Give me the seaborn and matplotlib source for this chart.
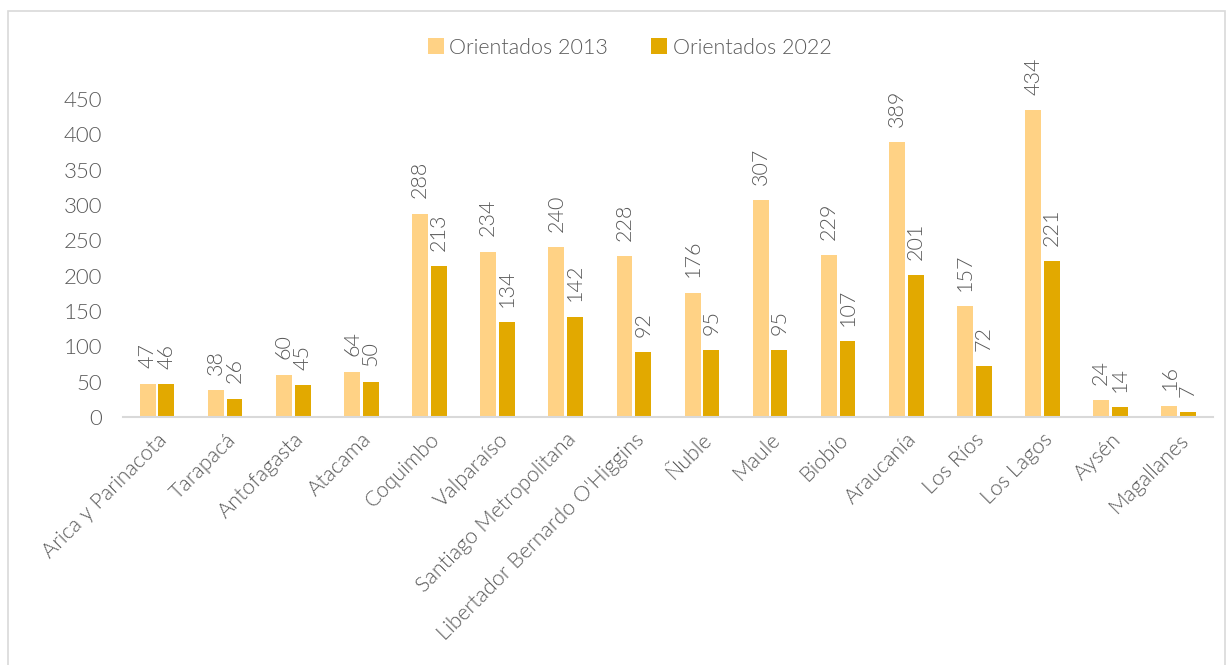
import matplotlib
matplotlib.use("Agg")
import matplotlib.pyplot as plt
import seaborn as sns
import pandas as pd
from matplotlib.patches import Rectangle

regions = ["Arica y Parinacota", "Tarapacá", "Antofagasta", "Atacama", "Coquimbo",
           "Valparaíso", "Santiago Metropolitana", "Libertador Bernardo O'Higgins",
           "Ñuble", "Maule", "Biobío", "Araucanía", "Los Ríos", "Los Lagos",
           "Aysén", "Magallanes"]
orientados_2013 = [47, 38, 60, 64, 288, 234, 240, 228, 176, 307, 229, 389, 157, 434, 24, 16]
orientados_2022 = [46, 26, 45, 50, 213, 134, 142, 92, 95, 95, 107, 201, 72, 221, 14, 7]
series_names = ["Orientados 2013", "Orientados 2022"]
colors = ["#FFD285", "#E2A900"]
yticks = [0, 50, 100, 150, 200, 250, 300, 350, 400, 450]

df = pd.DataFrame({
    "Región": regions * 2,
    "Valor": orientados_2013 + orientados_2022,
    "Serie": [series_names[0]] * len(regions) + [series_names[1]] * len(regions),
})

sns.set_theme(style="white")
plt.rcParams["font.family"] = ["Lato", "DejaVu Sans"]
txt = "#595959"
fw = 300

fig = plt.figure(figsize=(12.3, 6.65), dpi=100)
ax = fig.add_axes([0.1, 0.373, 0.886, 0.478])
sns.barplot(data=df, x="Región", y="Valor", hue="Serie", palette=colors,
            width=0.55, gap=0.15, ax=ax, linewidth=0, saturation=1, legend=True)

for c in ax.containers:
    ax.bar_label(c, labels=[f"{int(v)}" for v in c.datavalues], rotation=90,
                 padding=11, fontsize=15.5, color=txt, fontweight=fw)

ax.set_xlim(-0.5, len(regions) - 0.5)
ax.set_ylim(0, 450)
ax.set_yticks(yticks)
ax.set_yticklabels([str(t) for t in yticks], fontsize=16, color=txt, fontweight=fw)
ax.set_xticks(range(len(regions)))
ax.set_xticklabels(regions, rotation=45, ha="right", rotation_mode="anchor",
                   fontsize=15.5, color=txt, fontweight=fw)
ax.tick_params(axis="y", length=0, pad=15)
ax.tick_params(axis="x", length=0, pad=9)
ax.set_xlabel("")
ax.set_ylabel("")
for s in ["left", "right", "top"]:
    ax.spines[s].set_visible(False)
ax.spines["bottom"].set_color("#d9d9d9")
ax.spines["bottom"].set_linewidth(1.5)

handles, labels = ax.get_legend_handles_labels()
ax.get_legend().remove()
leg = fig.legend(handles, labels, loc="center", bbox_to_anchor=(0.512, 0.928), ncol=2,
                 frameon=False, fontsize=15.5, handlelength=0.75, handleheight=0.75,
                 handletextpad=0.25, columnspacing=2.0)
for t in leg.get_texts():
    t.set_color(txt)
    t.set_fontweight(fw)

fig.patches.append(Rectangle((8 / 1230, -0.01), 1 - 13 / 1230, 1 - 11 / 665 + 0.01,
                             transform=fig.transFigure, fill=False,
                             edgecolor="#d9d9d9", linewidth=1.2))

fig.savefig("out.png", dpi=100)
